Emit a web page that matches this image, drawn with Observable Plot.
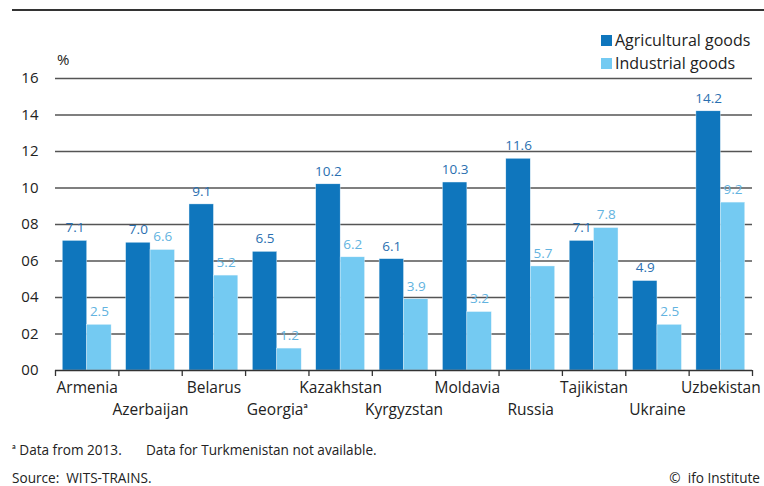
<!DOCTYPE html>
<html>
<head>
<meta charset="utf-8">
<script src="https://cdn.jsdelivr.net/npm/d3@7"></script>
<script src="https://cdn.jsdelivr.net/npm/@observablehq/plot@0.6"></script>
<style>
  html, body { margin: 0; padding: 0; background: #fff; }
  body { font-family: "Open Sans", Lato, sans-serif; color: #222; }
  #wrap { position: relative; width: 764px; height: 486px; overflow: hidden; }
  #rule { position: absolute; left: 12px; right: 0; top: 9px; height: 2px; background: #333; }
  #chart { position: absolute; left: 0; top: 20px; }
  .leg { position: absolute; left: 601px; font-size: 16px; display: flex; align-items: center; line-height: 20px; }
  .leg span.sw { display: inline-block; width: 11px; height: 11px; margin-right: 3px; }
  #pct { position: absolute; left: 57px; top: 49px; font-size: 15px; }
  .note { position: absolute; font-size: 13.6px; color: #222; line-height: 18px; }
</style>
</head>
<body>
<div id="wrap">
  <div id="rule"></div>
  <div id="pct">%</div>
  <div id="chart"></div>
  <div class="leg" style="top:30px"><span class="sw" style="background:#0f76bd"></span>Agricultural goods</div>
  <div class="leg" style="top:53px"><span class="sw" style="background:#74caf2"></span>Industrial goods</div>
  <div class="note" style="left:12px; top:441px">ᵃ Data from 2013.</div>
  <div class="note" style="left:146px; top:441px">Data for Turkmenistan not available.</div>
  <div class="note" style="left:12px; top:469px">Source:&nbsp; WITS-TRAINS.</div>
  <div class="note" style="right:4px; top:469px">©&nbsp; ifo Institute</div>
</div>
<script>
const countries = ["Armenia", "Azerbaijan", "Belarus", "Georgiaᵃ", "Kazakhstan", "Kyrgyzstan", "Moldavia", "Russia", "Tajikistan", "Ukraine", "Uzbekistan"];
const seriesNames = ["Agricultural goods", "Industrial goods"];
const agricultural = [7.1, 7.0, 9.1, 6.5, 10.2, 6.1, 10.3, 11.6, 7.1, 4.9, 14.2];
const industrial = [2.5, 6.6, 5.2, 1.2, 6.2, 3.9, 3.2, 5.7, 7.8, 2.5, 9.2];
const yTicks = [0, 2, 4, 6, 8, 10, 12, 14, 16];

const barColors = ["#0f76bd", "#74caf2"];
const labelColors = ["#2a6fb0", "#62b3e0"];

// group layout within each country band (fractions of the band)
const slots = [[0.115, 0.5], [0.5, 0.885]];

const rows = [];
countries.forEach((c, i) => {
  [agricultural, industrial].forEach((arr, s) => {
    rows.push({country: c, i, s, series: seriesNames[s], value: arr[i]});
  });
});

const labelStyle = {frameAnchor: "bottom", lineAnchor: "top", textAnchor: "middle", fontSize: 15.5, fill: "#222"};

const chart = Plot.plot({
  width: 764,
  height: 410,
  marginLeft: 55,
  marginRight: 12,
  marginTop: 58,
  marginBottom: 60,
  style: {fontFamily: "'Open Sans', Lato, sans-serif", fontSize: "15px", color: "#222", background: "transparent"},
  x: {type: "linear", domain: [0, countries.length], axis: null},
  y: {type: "linear", domain: [0, 16], axis: null},
  marks: [
    Plot.ruleY(yTicks.filter(d => d > 0), {stroke: "#555", strokeWidth: 1.3}),
    Plot.rectY(rows, {
      x1: d => d.i + slots[d.s][0],
      x2: d => d.i + slots[d.s][1],
      y: "value",
      fill: d => barColors[d.s],
      stroke: "#e8f4fb", strokeWidth: 0.4
    }),
    Plot.text(rows, {
      x: d => d.i + (slots[d.s][0] + slots[d.s][1]) / 2,
      y: "value",
      text: d => d.value.toFixed(1),
      fill: d => labelColors[d.s],
      dy: -13,
      fontSize: 13.5
    }),
    Plot.ruleY([0], {stroke: "#333", strokeWidth: 1.5}),
    Plot.axisX({ticks: d3.range(countries.length + 1), tickSize: 6, tickFormat: () => "", stroke: "#333", strokeWidth: 1.3, label: null}),
    Plot.axisY({ticks: yTicks, tickSize: 0, tickPadding: 17, tickFormat: d => String(d).padStart(2, "0"), fontSize: 15, fill: "#222", label: null}),
    Plot.text(countries.map((c, i) => ({c, i})).filter(d => d.i % 2 === 0), {
      ...labelStyle, x: d => d.i + 0.5, text: "c", dy: 11
    }),
    Plot.text(countries.map((c, i) => ({c, i})).filter(d => d.i % 2 === 1), {
      ...labelStyle, x: d => d.i + 0.5, text: "c", dy: 33
    })
  ]
});
document.getElementById("chart").appendChild(chart);
</script>
</body>
</html>
